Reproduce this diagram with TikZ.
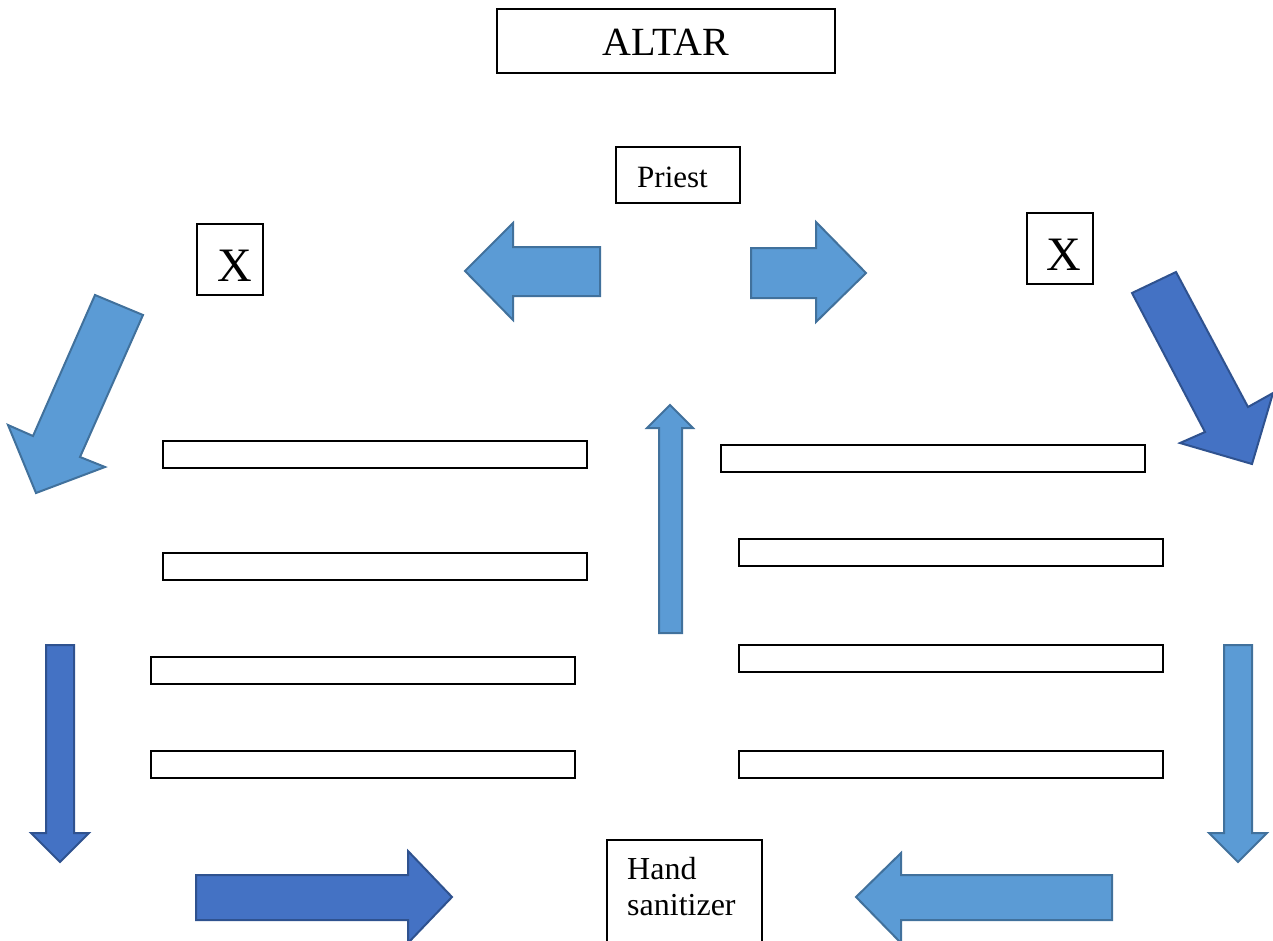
\documentclass[tikz,border=0pt]{standalone}
\usepackage{fontspec}
\setmainfont{Liberation Serif}
\definecolor{lightfill}{HTML}{5B9BD5}
\definecolor{lightedge}{HTML}{41719C}
\definecolor{darkfill}{HTML}{4472C4}
\definecolor{darkedge}{HTML}{2F528F}
\tikzset{
  lightarrow/.style={fill=lightfill, draw=lightedge, line width=2pt, line join=miter},
  darkarrow/.style={fill=darkfill, draw=darkedge, line width=2pt, line join=miter},
  box/.style={draw=black, line width=1.6pt, fill=white, anchor=north west, inner sep=0pt, outer sep=0pt},
  bar/.style={draw=black, line width=1.6pt, fill=white, anchor=north west, inner sep=0pt, outer sep=0pt, minimum width=424pt, minimum height=27pt},
}
\begin{document}
\begin{tikzpicture}[x=1pt,y=-1pt]
\useasboundingbox (0,0) rectangle (1273,940);
\clip (0,0) rectangle (1273,940);

% boxes
\node[box, minimum width=338pt, minimum height=64pt] (altar) at (497,9) {};
\node[font=\fontsize{40}{48}\selectfont, anchor=base] at (666,55) {ALTAR};
\node[box, minimum width=124pt, minimum height=56pt] (priest) at (616,147) {};
\node[font=\fontsize{31}{37}\selectfont, anchor=base] at (672.5,187) {Priest};
\node[box, minimum width=66pt, minimum height=71pt] (xl) at (197,224) {};
\node[font=\fontsize{48}{54}\selectfont, anchor=base] at (235,281) {X};
\node[box, minimum width=66pt, minimum height=71pt] (xr) at (1027,213) {};
\node[font=\fontsize{48}{54}\selectfont, anchor=base] at (1064,270) {X};
\node[box, minimum width=155pt, minimum height=110pt] (hs) at (607,840) {};
\node[font=\fontsize{32}{35.5}\selectfont, align=left, anchor=north west, inner sep=0pt] at (627,857.5) {Hand\\sanitizer};

% bars
\node[bar] (l1) at (163,441) {};
\node[bar] (l2) at (163,553) {};
\node[bar] (l3) at (151,657) {};
\node[bar] (l4) at (151,751) {};
\node[bar] (r1) at (721,445) {};
\node[bar] (r2) at (739,539) {};
\node[bar] (r3) at (739,645) {};
\node[bar] (r4) at (739,751) {};

% top horizontal arrows
\draw[lightarrow] (600,247) -- (513,247) -- (513,223) -- (465,271) -- (513,320) -- (513,296) -- (600,296) -- cycle;
\draw[lightarrow] (751,248) -- (816,248) -- (816,222) -- (866,273) -- (816,322) -- (816,298) -- (751,298) -- cycle;

% diagonal arrows
\draw[lightarrow] (95,295) -- (143,315) -- (80,457) -- (105,467) -- (36,493) -- (8,425) -- (33,436) -- cycle;
\draw[darkarrow] (1132,293) -- (1176,272) -- (1248,407) -- (1273,393) -- (1252,464) -- (1180,443) -- (1205,432) -- cycle;

% up arrow
\draw[lightarrow] (659,633) -- (659,428) -- (647,428) -- (670,405) -- (693,428) -- (682,428) -- (682,633) -- cycle;

% down arrows
\draw[darkarrow] (46,645) -- (74,645) -- (74,833) -- (89,833) -- (60,862) -- (31,833) -- (46,833) -- cycle;
\draw[lightarrow] (1224,645) -- (1252,645) -- (1252,833) -- (1267,833) -- (1238,862) -- (1209,833) -- (1224,833) -- cycle;

% bottom arrows
\draw[darkarrow] (196,875) -- (408,875) -- (408,851) -- (452,897) -- (408,943) -- (408,920) -- (196,920) -- cycle;
\draw[lightarrow] (1112,875) -- (901,875) -- (901,853) -- (856,897) -- (901,943) -- (901,920) -- (1112,920) -- cycle;
\end{tikzpicture}
\end{document}
